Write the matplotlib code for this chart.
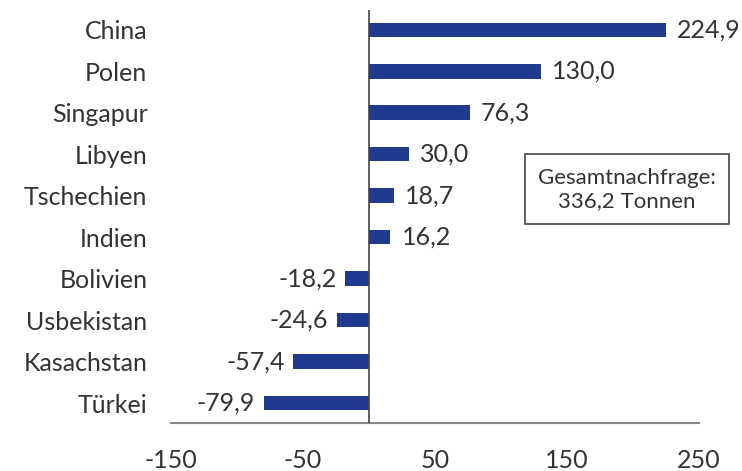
import matplotlib.pyplot as plt

countries = ['China', 'Polen', 'Singapur', 'Libyen', 'Tschechien', 'Indien',
             'Bolivien', 'Usbekistan', 'Kasachstan', 'Türkei']
values = [224.9, 130.0, 76.3, 30.0, 18.7, 16.2, -18.2, -24.6, -57.4, -79.9]
xticks = [-150, -50, 50, 150, 250]
total_text = 'Gesamtnachfrage:\n336,2 Tonnen'

bar_color = '#1f3a8f'
text_color = '#333333'
fs = 18

plt.rcParams['font.family'] = ['Lato', 'DejaVu Sans']

fig = plt.figure(figsize=(7.42, 4.71), dpi=100)
ax = fig.add_axes([0.2305, 0.102, 0.7115, 0.877])

ypos = list(range(len(countries)))[::-1]
ax.barh(ypos, values, height=0.35, color=bar_color, zorder=2)

for y, v in zip(ypos, values):
    label = f'{v:.1f}'.replace('.', ',')
    if v >= 0:
        ax.annotate(label, (v, y), xytext=(8, 0), textcoords='offset points',
                    ha='left', va='center', fontsize=fs, color=text_color)
    else:
        ax.annotate(label, (v, y), xytext=(-6, 0), textcoords='offset points',
                    ha='right', va='center', fontsize=fs, color=text_color)

ax.axvline(0, color='#444444', lw=1.2, zorder=3)

ax.set_xlim(-150, 250)
ax.set_ylim(-0.48, 9.48)
ax.set_xticks(xticks)
ax.set_xticklabels([str(t) for t in xticks])
ax.set_yticks(ypos)
ax.set_yticklabels(countries)
ax.tick_params(axis='both', length=0, labelsize=fs, colors=text_color)
ax.tick_params(axis='x', pad=19)
ax.tick_params(axis='y', pad=17)

for s in ['top', 'right', 'left']:
    ax.spines[s].set_visible(False)
ax.spines['bottom'].set_color('#888888')
ax.spines['bottom'].set_linewidth(1.5)

fig.text(0.845, 0.598, total_text, ha='center', va='center', fontsize=16,
         color=text_color, linespacing=1.2,
         bbox=dict(boxstyle='square,pad=0.6', fc='white', ec='#444444', lw=1.2))

fig.savefig('out.png', dpi=100)
